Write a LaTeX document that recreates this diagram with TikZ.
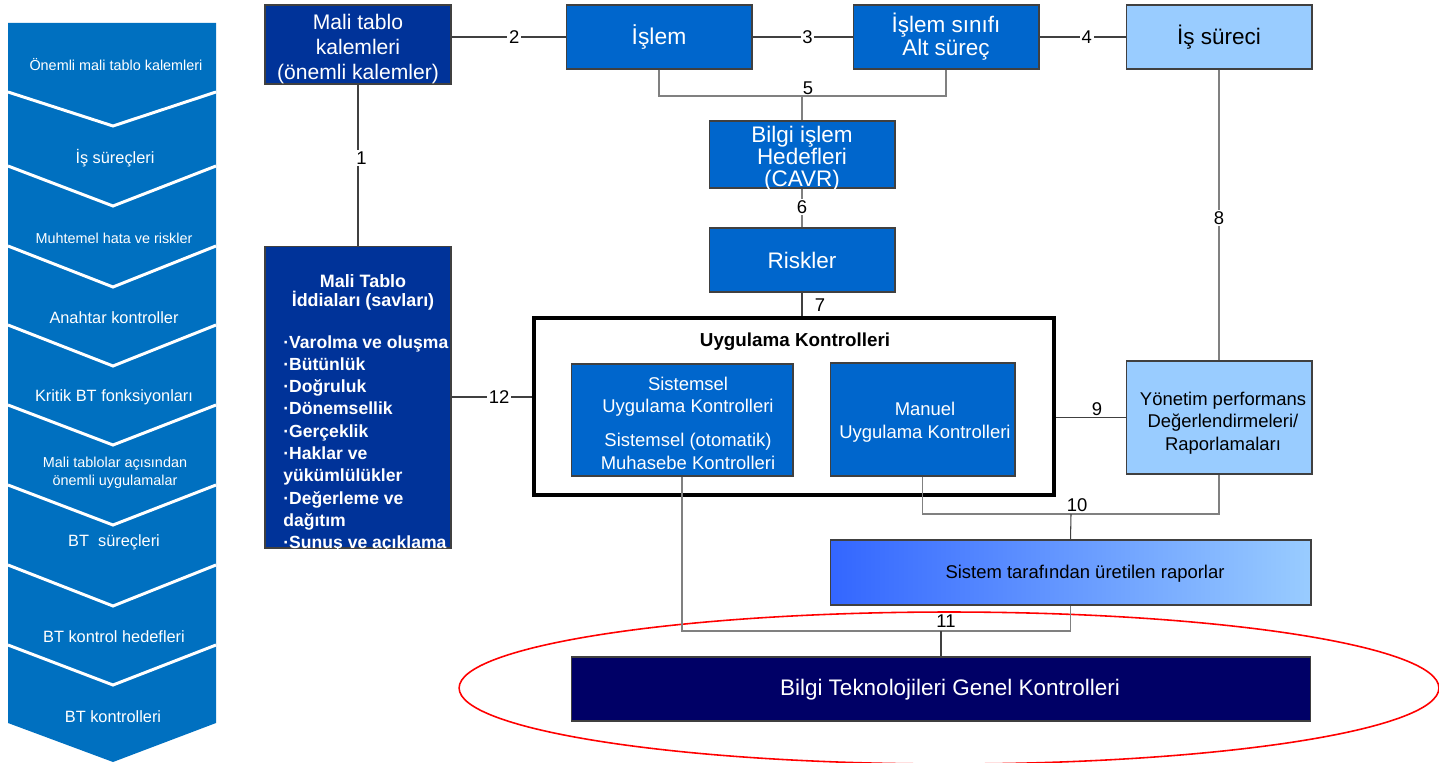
\documentclass[tikz,border=0pt]{standalone}
\usepackage{fontspec}
\usepackage{graphicx}
\setmainfont{Liberation Sans}
\newcommand\myfs[2]{\fontsize{#1}{#2}\selectfont}
\definecolor{colblue}{HTML}{0070C0}
\definecolor{dkblue}{HTML}{003399}
\definecolor{mdblue}{HTML}{0066CC}
\definecolor{ltblue}{HTML}{99CCFF}
\definecolor{navyb}{HTML}{000066}
\definecolor{grblue}{HTML}{3366FF}
\definecolor{edgec}{HTML}{404040}
\begin{document}
\begin{tikzpicture}[x=0.02cm,y=-0.02cm,
  box/.style={draw=edgec, line width=0.6pt, inner sep=0pt, align=center},
  dkbox/.style={box, fill=dkblue, text=white},
  mdbox/.style={box, fill=mdblue, text=white},
  ltbox/.style={box, fill=ltblue, text=black},
  conn/.style={draw=black!75, line width=0.6pt},
  brk/.style={draw=black!50, line width=0.9pt},
  lbl/.style={font=\myfs{10.5}{12}, inner sep=1pt, text=black},
  lblw/.style={lbl, fill=white},
  coltxt/.style={text=white, font=\myfs{9.3}{11}, align=center, inner sep=0pt},
  colsm/.style={coltxt, font=\myfs{8.2}{10.2}},
  btxt/.style={text=white, font=\bfseries\myfs{10}{12}, inner sep=0pt},
  wtxt/.style={text=white, align=center, inner sep=0pt}
]
\useasboundingbox (0,0) rectangle (1439,763);
\fill[white] (0,0) rectangle (1439,763);

% left column
\fill[colblue] (8,23) -- (216,23) -- (216,723) -- (113,762) -- (8,723) -- cycle;
\foreach \ya/\yb in {92/126,166/206,246/287,325/366,405/445,485/525,565/606,645/685}
  \draw[white, line width=1.7pt] (8,\ya) -- (113,\yb) -- (216,\ya);
\node[colsm] (c1) at (116,65) {Önemli mali tablo kalemleri};
\node[coltxt] (c2) at (115,158) {İş süreçleri};
\node[colsm] (c3) at (114,238) {Muhtemel hata ve riskler};
\node[coltxt] (c4) at (114,318) {Anahtar kontroller};
\node[coltxt] (c5) at (114,397) {Kritik BT fonksiyonları};
\node[colsm] (c6) at (115,473) {Mali tablolar açısından\\önemli uygulamalar};
\node[coltxt] (c7) at (114,542) {BT\ \ süreçleri};
\node[coltxt] (c8) at (114,637) {BT kontrol hedefleri};
\node[coltxt] (c9) at (113,717) {BT kontrolleri};

% red ellipse
\draw[red, line width=0.9pt] (949,688) ellipse [x radius=9.8cm, y radius=1.52cm];

% boxes
\node[dkbox, minimum width=3.72cm, minimum height=1.58cm] (A) at (358,44.5) {};
\draw[edgec, line width=1.1pt] (A.north west) -- (A.north east);
\node[wtxt, font=\myfs{12}{14}] (At) at (358,49) {Mali tablo\\kalemleri\\(önemli kalemler)};
\node[dkbox, minimum width=3.72cm, minimum height=6.04cm] (B) at (358,397) {};
\node[mdbox, minimum width=3.72cm, minimum height=1.28cm, font=\myfs{13}{15}] (C) at (659,37) {İşlem};
\node[mdbox, minimum width=3.72cm, minimum height=1.28cm, font=\myfs{12.8}{13}] (D) at (946,37) {İşlem sınıfı\\Alt süreç};
\node[ltbox, minimum width=3.72cm, minimum height=1.28cm, font=\myfs{12.8}{14}] (E) at (1219,37) {İş süreci};
\node[mdbox, minimum width=3.72cm, minimum height=1.34cm] (F) at (802,154.5) {};
\node[wtxt, font=\myfs{12.8}{12.5}] (Ft) at (802,158.5) {Bilgi işlem\\Hedefleri\\(CAVR)};
\node[mdbox, minimum width=3.72cm, minimum height=1.28cm, font=\myfs{12.8}{14}] (G) at (802,260) {Riskler};
\node[draw=black, line width=2.3pt, fill=white, minimum width=10.4cm, minimum height=3.54cm, inner sep=0pt] (H) at (794,406.5) {};
\node[font=\bfseries\myfs{10.7}{13}, inner sep=0pt] (Ht) at (795,342) {Uygulama Kontrolleri};
\node[mdbox, minimum width=4.44cm, minimum height=2.24cm] (I) at (682,420) {};
\node[wtxt, font=\myfs{10.5}{13}] (It) at (688,423) {Sistemsel\\Uygulama Kontrolleri\\[6pt]Sistemsel (otomatik)\\Muhasebe Kontrolleri};
\node[mdbox, minimum width=3.7cm, minimum height=2.26cm] (J) at (922.5,419.5) {};
\node[wtxt, font=\myfs{10.5}{13}] (Jt) at (925,422.5) {Manuel\\Uygulama Kontrolleri};
\node[ltbox, minimum width=3.72cm, minimum height=2.26cm] (K) at (1219,417.5) {};
\node[font=\myfs{10.5}{12.7}, align=center, inner sep=0pt] (Kt) at (1223,423) {Yönetim performans\\Değerlendirmeleri/\\Raporlamaları};
\node[box, left color=grblue, right color=ltblue, minimum width=9.62cm, minimum height=1.3cm] (L) at (1070.5,572.5) {};
\node[font=\myfs{10.5}{12}, inner sep=0pt] (Lt) at (1085,574) {Sistem tarafından üretilen raporlar};
\node[box, fill=navyb, minimum width=14.8cm, minimum height=1.28cm] (M) at (941,689) {};
\node[wtxt, font=\myfs{12.8}{14}] (Mt) at (950,690) {Bilgi Teknolojileri Genel Kontrolleri};

% text of B
\node[btxt, align=center, font=\bfseries\myfs{10.2}{10.8}] (Bt) at (363,292) {Mali Tablo\\İddiaları (savları)};
\begin{scope}
\clip (265,246) rectangle (451,548);
\foreach \t [count=\i] in {{·Varolma ve oluşma},{·Bütünlük},{·Doğruluk},{·Dönemsellik},{·Gerçeklik},{·Haklar ve},{yükümlülükler},{·Değerleme ve},{dağıtım},{·Sunuş ve açıklama}}
  \node[btxt, anchor=base west] (b\i) at (283,{348+22.3*(\i-1)}) {\t};
\end{scope}

% connectors
\draw[conn] (A.south) -- node[lblw, pos=0.457, xshift=2pt] (n1) {1} (B.north);
\draw[conn] (A.east |- C.west) -- node[lblw, pos=0.55] (n2) {2} (C.west);
\draw[conn] (C.east) -- node[lblw, pos=0.55] (n3) {3} (D.west);
\draw[conn] (D.east) -- node[lblw, pos=0.55] (n4) {4} (E.west);
\coordinate (j5) at (802,96);
\draw[brk] (C.south) |- (j5) -| (D.south);
\draw[brk] (j5) -- (F.north);
\node[lbl] (n5) at (808,88) {5};
\draw[brk] (F.south) -- node[lblw, pos=0.47] (n6) {6} (G.north);
\draw[conn] (G.south) -- (G.south |- H.north);
\node[lbl] (n7) at (820,305) {7};
\draw[brk] (E.south) -- node[lblw, pos=0.51] (n8) {8} (K.north);
\draw[conn] (K.west) -- (K.west -| H.east);
\node[lbl] (n9) at (1097,409) {9};
\draw[conn] (B.east) -- node[lblw, pos=0.59] (n12) {12} (B.east -| H.west);
\coordinate (j10) at (1071,514);
\draw[brk] (J.south) |- (j10) -| (K.south);
\draw[conn] (j10) -- (L.north);
\node[lbl] (n10) at (1077,505) {10};
\coordinate (j11) at (941,631);
\draw[brk] (I.south) |- (j11) -| (L.south);
\draw[conn] (j11) -- (j11 |- M.north);
\node[lbl] (n11) at (946,621) {11};
\end{tikzpicture}
\end{document}
